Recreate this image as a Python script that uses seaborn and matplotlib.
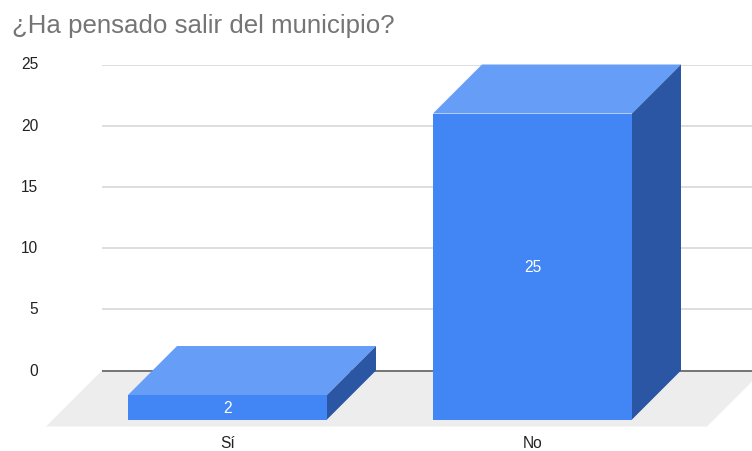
import matplotlib
matplotlib.use("Agg")

import pandas as pd
import matplotlib.pyplot as plt
import seaborn as sns
from matplotlib.patches import Polygon
from matplotlib.transforms import ScaledTranslation

categories = ["Sí", "No"]
values = [2, 25]
y_ticks = [0, 5, 10, 15, 20, 25]

W, H = 752, 452

# colores de las caras
FRONT = "#4285F4"
TOP = "#669DF6"
SIDE = "#2A56A3"

# geometria en pixeles (origen arriba a la izquierda)
BACK_ZERO = 371.5
BACK_TOP = 65.5
FRONT_ZERO = 420.5
DEPTH = 49
SPACING = 305
FIRST_CENTER = 227.5
BAR_WIDTH = 199 / SPACING
TICK_SIZE = 11.2

sns.set_theme(style="white")
plt.rcParams["font.family"] = ["Liberation Sans", "DejaVu Sans"]


def box(left, top, right, bottom):
    return [left / W, 1 - bottom / H, (right - left) / W, (bottom - top) / H]


df = pd.DataFrame({"respuesta": categories, "total": values})
fig = plt.figure(figsize=(W / 100, H / 100), dpi=100)

# pared del fondo: cuadricula y eje y
wall = fig.add_axes(box(102, BACK_TOP, W, BACK_ZERO))
wall.set_ylim(0, 25)
wall.set_yticks(y_ticks)
wall.set_xticks([])
wall.grid(axis="y", color="#D4D4D4", lw=1.1)
wall.tick_params(axis="y", length=0, pad=46, labelsize=TICK_SIZE, labelcolor="#222222")
sns.despine(ax=wall, left=True, bottom=True)
# las etiquetas quedan 2 px por encima de su linea
up = ScaledTranslation(0, 2 / 100, fig.dpi_scale_trans)
for label in wall.get_yticklabels():
    label.set_transform(label.get_transform() + up)

# cara frontal de las barras
ax = fig.add_axes(box(0, 0, W, FRONT_ZERO))
ax.patch.set_alpha(0)
sns.barplot(data=df, x="respuesta", y="total", color=FRONT, saturation=1,
            width=BAR_WIDTH, ax=ax, zorder=3, linewidth=0, edgecolor="none")
unit_y = (BACK_ZERO - BACK_TOP) / 25
ax.set_xlim(-FIRST_CENTER / SPACING, (W - FIRST_CENTER) / SPACING)
ax.set_ylim(0, FRONT_ZERO / unit_y)
ax.set_xlabel("")
ax.set_ylabel("")
ax.set_yticks([])
ax.tick_params(axis="x", length=0, pad=11.5, labelsize=TICK_SIZE, labelcolor="#222222")
sns.despine(ax=ax, left=True, bottom=True)

dx = DEPTH / SPACING
dy = DEPTH / unit_y

# suelo gris y linea del cero
floor_front = -7 / unit_y
floor_left = (46 - FIRST_CENTER) / SPACING
floor_right = (707 - FIRST_CENTER) / SPACING
floor_shift = (dy - floor_front) * unit_y / SPACING
ax.add_patch(Polygon(
    [(floor_left, floor_front), (floor_right, floor_front),
     (floor_right + floor_shift, dy), (floor_left + floor_shift, dy)],
    facecolor="#EDEDED", edgecolor="none", clip_on=False, zorder=1))
ax.plot([floor_left + floor_shift, floor_right + floor_shift], [dy, dy],
        color="#555555", lw=1.1, zorder=2, solid_capstyle="butt")

# caras superior y lateral a partir de cada barra
for bar in list(ax.patches):
    if bar.get_zorder() != 3:
        continue
    left, right = bar.get_x(), bar.get_x() + bar.get_width()
    h = bar.get_height()
    ax.add_patch(Polygon([(left, h), (right, h), (right + dx, h + dy), (left + dx, h + dy)],
                         facecolor=TOP, edgecolor="none", zorder=3))
    ax.add_patch(Polygon([(right, 0), (right + dx, dy), (right + dx, h + dy), (right, h)],
                         facecolor=SIDE, edgecolor="none", zorder=3))

ax.bar_label(ax.containers[0], labels=[str(v) for v in values], label_type="center",
             color="white", fontsize=TICK_SIZE)

fig.text(12 / W, 1 - 33.5 / H, "¿Ha pensado salir del municipio?", fontsize=18.6,
         color="#757575", va="baseline", ha="left")

fig.savefig("out.png", dpi=100)
